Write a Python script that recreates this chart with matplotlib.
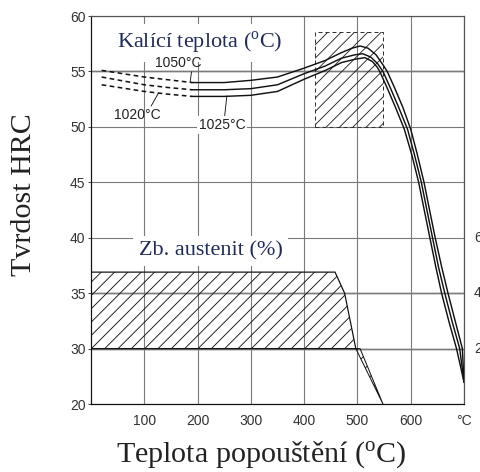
import numpy as np
import matplotlib
matplotlib.use("Agg")
import matplotlib.pyplot as plt
from matplotlib.patches import Polygon, Rectangle

plt.rcParams["font.family"] = ["Liberation Sans", "DejaVu Sans"]
plt.rcParams["mathtext.fontset"] = "custom"
plt.rcParams["mathtext.rm"] = "Liberation Serif"
plt.rcParams["hatch.color"] = "black"
plt.rcParams["hatch.linewidth"] = 0.8

# tempering curves (temperature degC, hardness HRC), solid part
t_1050 = [190, 250, 300, 350, 400, 440, 470, 490, 505, 520, 535, 548, 556, 570, 585,
          600, 612, 625, 635, 646, 658, 670, 684, 697, 700]
h_1050 = [54.0, 54.0, 54.2, 54.5, 55.3, 56.0, 56.7, 57.1, 57.3, 57.1, 56.5, 55.6, 55.0, 53.5, 51.8,
          49.8, 47.6, 45.0, 42.6, 40.0, 37.4, 35.0, 32.4, 30.0, 24.0]
t_1025 = [190, 250, 300, 350, 400, 440, 470, 495, 510, 525, 538, 548, 562, 578,
          594, 607, 620, 630, 641, 652, 664, 678, 692, 700]
h_1025 = [53.35, 53.35, 53.45, 53.8, 54.8, 55.5, 56.2, 56.5, 56.6, 56.3, 55.7, 55.0, 53.5, 51.7,
          49.8, 47.5, 45.0, 42.6, 40.0, 37.4, 35.0, 32.4, 30.0, 24.0]
t_1020 = [190, 250, 300, 350, 400, 440, 470, 495, 514, 528, 537, 542, 556, 572,
          588, 602, 615, 625, 636, 647, 658, 672, 686, 700]
h_1020 = [52.75, 52.75, 52.85, 53.2, 54.3, 55.1, 55.8, 56.1, 56.25, 55.9, 55.4, 55.0, 53.5, 51.7,
          49.8, 47.5, 45.0, 42.6, 40.0, 37.4, 35.0, 32.4, 30.0, 24.0]

# dashed start of the curves
t_dash = [20, 60, 100, 145, 190]
h_dash_1050 = [55.1, 54.8, 54.5, 54.25, 54.0]
h_dash_1025 = [54.5, 54.15, 53.8, 53.55, 53.35]
h_dash_1020 = [53.8, 53.5, 53.2, 52.95, 52.75]

# hatched bands
band_t = [420, 548]
band_h = [50, 58.6]
aust_t = [0, 0, 458, 476, 497]
aust_h = [30, 36.9, 36.9, 35, 30]
tail_t = [497, 505, 548]
tail_h = [30, 30, 20]

x_ticks = [100, 200, 300, 400, 500, 600, 700]
x_labels = ["100", "200", "300", "400", "500", "600", "°C"]
y_ticks = [20, 30, 35, 40, 45, 50, 55, 60]
dark_rows = [55, 35, 30]
right_ticks = [40, 35, 30]
right_labels = ["60", "40", "20"]


def fwd(y):
    y = np.asarray(y, dtype=float)
    return np.where(y < 30, 30 - (30 - y) / 2, y)


def inv(y):
    y = np.asarray(y, dtype=float)
    return np.where(y < 30, 30 - (30 - y) * 2, y)


fig = plt.figure(figsize=(6.0, 5.9), dpi=80)
ax = fig.add_axes([0.1896, 0.144, 0.777, 0.822])
ax.set_yscale("function", functions=(fwd, inv))
ax.set_xlim(0, 700)
ax.set_ylim(20, 60)

ax.set_xticks(x_ticks)
ax.set_xticklabels(x_labels)
ax.set_yticks(y_ticks)
ax.set_yticklabels([str(v) for v in y_ticks])
ax.minorticks_off()
ax.tick_params(axis="x", length=0, pad=9, labelsize=12.5, colors="#333333")
ax.tick_params(axis="y", length=3, width=0.8, pad=2, labelsize=12.5, colors="#333333")
ax.grid(True, color="#7a7a7a", lw=1.0, zorder=0)
for v in dark_rows:
    ax.axhline(v, color="#111111", lw=1.2, zorder=1)
for s in ax.spines.values():
    s.set_color("#555555")
    s.set_linewidth(1.1)
ax.spines["left"].set_color("#111111")
ax.spines["bottom"].set_color("#111111")

# hatched areas
ax.add_patch(Rectangle((band_t[0], band_h[0]), band_t[1] - band_t[0], band_h[1] - band_h[0],
                       fill=False, hatch="//", edgecolor="#222222", lw=0, zorder=2))
ax.add_patch(Rectangle((band_t[0], band_h[0]), band_t[1] - band_t[0], band_h[1] - band_h[0],
                       fill=False, edgecolor="#333333", lw=0.9, ls=(0, (4, 3)), zorder=2))
ax.add_patch(Polygon(list(zip(aust_t, aust_h)), closed=True, fill=False, hatch="//",
                     edgecolor="#111111", lw=1.1, zorder=2))
ax.add_patch(Polygon(list(zip(tail_t, tail_h)), closed=True, fill=False, hatch="//",
                     edgecolor="#111111", lw=0.9, zorder=2))

# hardness curves
for t, h in [(t_1050, h_1050), (t_1025, h_1025), (t_1020, h_1020)]:
    ax.plot(t, h, color="#111111", lw=1.3, zorder=3)
for h in [h_dash_1050, h_dash_1025, h_dash_1020]:
    ax.plot(t_dash, h, color="#111111", lw=1.4, dashes=(3, 2.2), zorder=3)

serif = ["Liberation Serif", "DejaVu Serif"]
box = dict(boxstyle="square,pad=0.25", fc="white", ec="none")
ax.text(204, 57.55, r"Kalící teplota ($^{\rm o}$C)", family=serif, fontsize=20,
        color="#1f2b5e", ha="center", va="center", bbox=box, zorder=4)
ax.text(225, 38.8, "Zb. austenit (%)", family=serif, fontsize=20,
        color="#1f2b5e", ha="center", va="center", bbox=box, zorder=4)

lead = dict(arrowstyle="-", color="#111111", lw=0.8, shrinkA=0, shrinkB=0)
ax.annotate("1050°C", xy=(186, 54.02), xytext=(163, 55.8), fontsize=12.5, color="#222222",
            ha="center", va="center", zorder=5,
            arrowprops=dict(lead, relpos=(0.8, 0.0)))
ax.annotate("1020°C", xy=(126, 53.0), xytext=(86, 51.05), fontsize=12.5, color="#222222",
            ha="center", va="center", zorder=5,
            arrowprops=dict(lead, relpos=(0.78, 1.0)))
ax.annotate("1025°C", xy=(255, 52.8), xytext=(246, 50.15), fontsize=12.5, color="#222222",
            ha="center", va="center", zorder=5,
            bbox=dict(boxstyle="square,pad=0.15", fc="white", ec="none"),
            arrowprops=dict(lead, relpos=(0.55, 1.0)))

# retained austenite scale on the right edge
for v, lab in zip(right_ticks, right_labels):
    ax.text(1.027, v, lab, transform=ax.get_yaxis_transform(), fontsize=12.5,
            color="#333333", ha="left", va="center", clip_on=False)

fig.text(0.05, 0.587, "Tvrdost HRC", family=serif, fontsize=27, color="#222222",
         rotation=90, ha="center", va="center")
fig.text(0.544, 0.036, r"Teplota popouštění ($^{\rm o}$C)", family=serif, fontsize=27,
         color="#222222", ha="center", va="center")

fig.savefig("out.png", dpi=80, facecolor="white")
